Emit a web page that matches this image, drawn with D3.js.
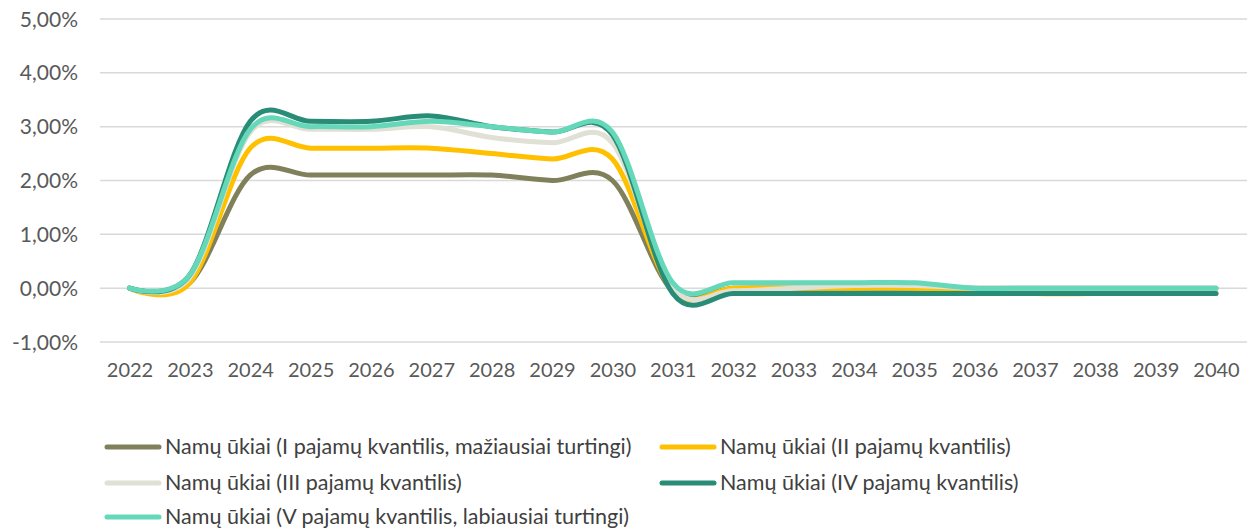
<!DOCTYPE html>
<html>
<head>
<meta charset="utf-8">
<script src="https://cdn.jsdelivr.net/npm/d3@7"></script>
<style>
  html, body { margin: 0; padding: 0; background: #fff; }
  svg { display: block; }
  text { font-family: Lato, "Open Sans", sans-serif; }
</style>
</head>
<body>
<svg id="chart" width="1247" height="530"></svg>
<script>
// ---- data ----
const years = ["2022","2023","2024","2025","2026","2027","2028","2029","2030","2031","2032","2033","2034","2035","2036","2037","2038","2039","2040"];
const yTicks = [-1, 0, 1, 2, 3, 4, 5];
const seriesNames = [
  "Namų ūkiai (I pajamų kvantilis, mažiausiai turtingi)",
  "Namų ūkiai (II pajamų kvantilis)",
  "Namų ūkiai (III pajamų kvantilis)",
  "Namų ūkiai (IV pajamų kvantilis)",
  "Namų ūkiai (V pajamų kvantilis, labiausiai turtingi)"
];
const q1 = [0, 0.1, 2.1, 2.1, 2.1, 2.1, 2.1, 2.0, 2.0, -0.05, 0, 0, 0, 0, 0, 0, 0, 0, 0];
const q2 = [0, 0.1, 2.6, 2.6, 2.6, 2.6, 2.5, 2.4, 2.4, -0.05, 0, 0, 0, 0, -0.05, -0.1, -0.1, -0.1, -0.1];
const q3 = [0, 0.2, 2.9, 2.95, 2.95, 3.0, 2.8, 2.7, 2.7, 0, -0.05, 0, 0.05, 0.05, 0, 0, 0, 0, 0];
const q4 = [0, 0.25, 3.1, 3.1, 3.1, 3.2, 3.0, 2.9, 2.85, -0.1, -0.1, -0.1, -0.1, -0.1, -0.1, -0.1, -0.1, -0.1, -0.1];
const q5 = [0, 0.25, 2.95, 3.0, 3.0, 3.1, 3.0, 2.9, 2.9, 0.1, 0.1, 0.1, 0.1, 0.1, 0, 0, 0, 0, 0];
const colors = ["#80805A", "#FFC000", "#E0E0D5", "#288C77", "#64D8B8"];

const series = [q1, q2, q3, q4, q5].map((vals, i) => ({ name: seriesNames[i], color: colors[i], values: vals }));

// ---- layout ----
const svg = d3.select("#chart");
const x = d3.scalePoint().domain(years).range([129.5, 1216]);
const y = d3.scaleLinear().domain([-1, 5]).range([342, 19]);

// gridlines
svg.append("g").selectAll("line").data(yTicks).join("line")
  .attr("x1", 100).attr("x2", 1247)
  .attr("y1", d => y(d)).attr("y2", d => y(d))
  .attr("stroke", "#D9D9D9").attr("stroke-width", 1.5);

// y axis
const fmt = d => (d < 0 ? "-" : "") + Math.abs(d).toFixed(2).replace(".", ",") + "%";
const yAxis = d3.axisLeft(y).tickValues(yTicks).tickFormat(fmt).tickSize(0).tickPadding(0);
const gy = svg.append("g").attr("transform", "translate(78,0)").call(yAxis);
gy.select(".domain").remove();
gy.selectAll("text").attr("font-size", 21).attr("fill", "#595959").attr("dy", "0.34em");

// x axis
const xAxis = d3.axisBottom(x).tickSize(0).tickPadding(0);
const gx = svg.append("g").attr("transform", "translate(0,363)").call(xAxis);
gx.select(".domain").remove();
gx.selectAll("text").attr("font-size", 20).attr("fill", "#595959").attr("dy", "0.71em");

// lines
const line = d3.line()
  .x((d, i) => x(years[i]))
  .y(d => y(d))
  .curve(d3.curveCardinal.tension(0));

svg.append("g").selectAll("path").data(series).join("path")
  .attr("d", d => line(d.values))
  .attr("fill", "none")
  .attr("stroke", d => d.color)
  .attr("stroke-width", 5)
  .attr("stroke-linecap", "round")
  .attr("stroke-linejoin", "round");

// legend
const legPos = [[105, 447], [660, 447], [105, 483], [660, 483], [105, 517]];
const leg = svg.append("g").selectAll("g").data(series).join("g")
  .attr("transform", (d, i) => `translate(${legPos[i][0]},${legPos[i][1]})`);
leg.append("line").attr("x1", 2).attr("x2", 54).attr("y1", 0).attr("y2", 0)
  .attr("stroke", d => d.color).attr("stroke-width", 5).attr("stroke-linecap", "round");
leg.append("text").attr("x", 60).attr("y", 0).attr("dy", "0.33em")
  .attr("font-size", 21.5).attr("fill", "#404040").text(d => d.name);
</script>
</body>
</html>
